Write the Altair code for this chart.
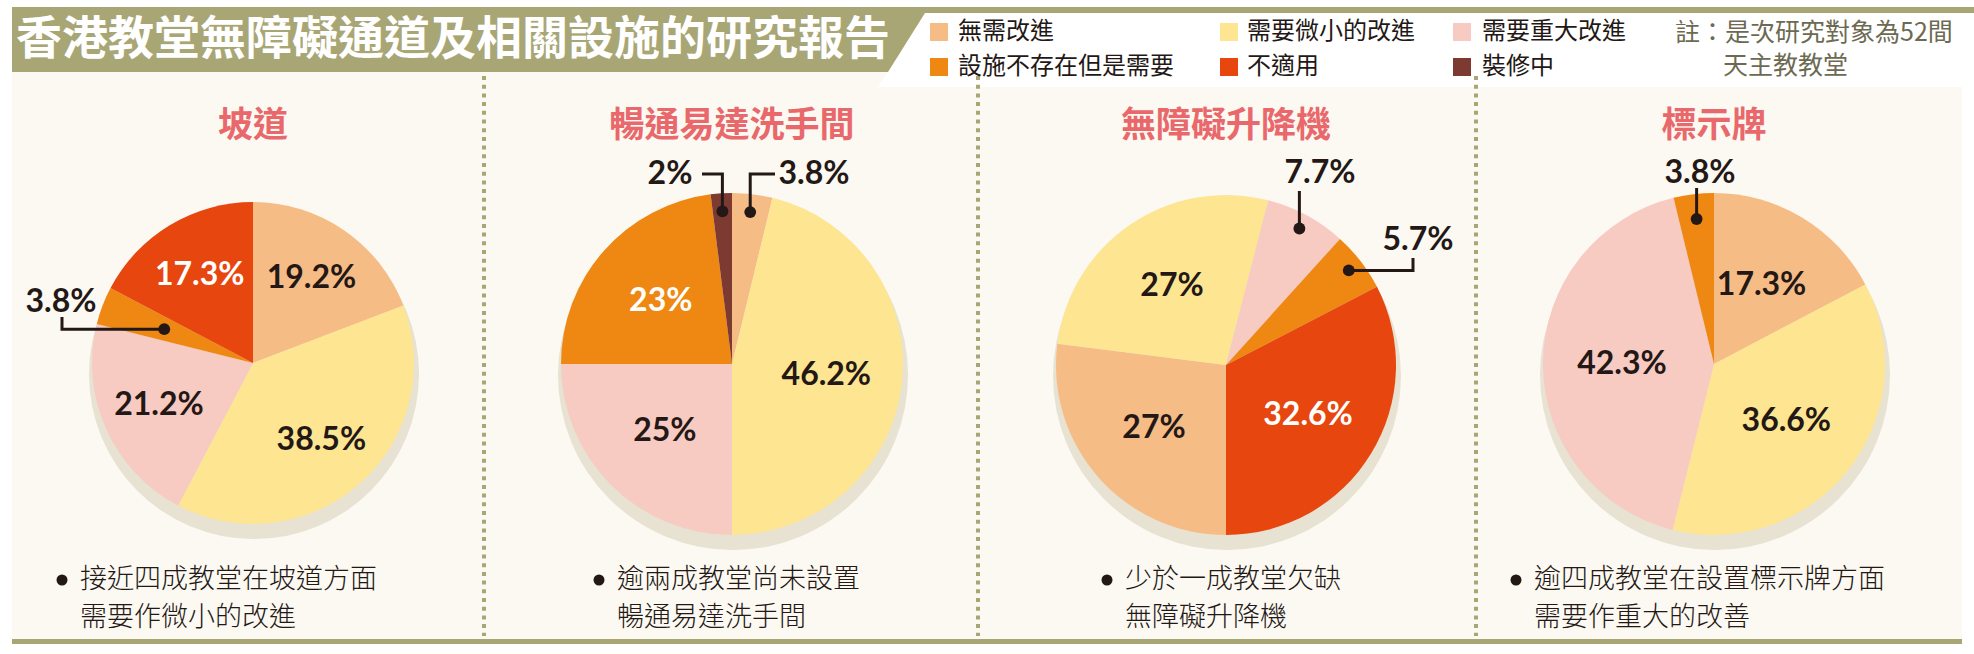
import math
import altair as alt
import pandas as pd

# ---------------- data ----------------
TITLE = "香港教堂無障礙通道及相關設施的研究報告"
CATEGORIES = ["無需改進", "需要微小的改進", "需要重大改進", "設施不存在但是需要", "不適用", "裝修中"]
PANEL_TITLES = ["坡道", "暢通易達洗手間", "無障礙升降機", "標示牌"]
VALUES_RAMP = [19.2, 38.5, 21.2, 3.8, 17.3, None]
VALUES_TOILET = [3.8, 46.2, 25.0, 23.0, None, 2.0]
VALUES_LIFT = [27.0, 27.0, 7.7, 5.7, 32.6, None]
VALUES_SIGN = [17.3, 36.6, 42.3, 3.8, None, None]
PIE_VALUES = [VALUES_RAMP, VALUES_TOILET, VALUES_LIFT, VALUES_SIGN]
CAPTIONS = [
    ["接近四成教堂在坡道方面", "需要作微小的改進"],
    ["逾兩成教堂尚未設置", "暢通易達洗手間"],
    ["少於一成教堂欠缺", "無障礙升降機"],
    ["逾四成教堂在設置標示牌方面", "需要作重大的改善"],
]
NOTE_LINES = ["註：是次研究對象為52間", "天主教教堂"]

# ---------------- style / layout ----------------
SLICE_COLORS = ["#f6bc86", "#fde591", "#f7cac2", "#ee8813", "#e7460e", "#7c3a31"]
WHITE_TEXT_CATS = [3, 4]
OLIVE = "#a9a676"
CREAM = "#fcf9f2"
SHADOW = "#e7e2d2"
DARK = "#231815"
TITLE_PINK = "#e9686b"
NOTE_COLOR = "#6c6a52"
CJK = "Noto Sans CJK TC"
NUM_FONT = "Lato"
NUM_SIZE = 32
W, H = 1974, 654

PIE_CX = [253, 732, 1226, 1714]
PIE_CY = [363, 364, 365, 364]
PIE_R = [161, 171, 170, 171]
PIE_START_DEG = [0, 0, 180, 0]
LABEL_R = [103, 95, 96, 92]
OUTSIDE_LIMIT = 10

# (pie, category) -> outside label layout
OUT_LAYOUT = {
    (0, 3): dict(label=(61, 302), dist=95, route="vh", anchor=(62, 317)),
    (1, 5): dict(label=(670, 174), dist=153, route="hv", anchor=(702, 174)),
    (1, 0): dict(label=(814, 174), dist=153, route="hv", anchor=(775, 174)),
    (2, 2): dict(label=(1320, 173), dist=155, route="v", anchor=(0, 191)),
    (2, 3): dict(label=(1418, 240), dist=155, route="vh", anchor=(1413, 258)),
    (3, 3): dict(label=(1700, 173), dist=146, route="v", anchor=(0, 188)),
}

LEG_SQ_X = [939, 1229, 1462]
LEG_TX_X = [958, 1247, 1482]
LEG_ROW_Y = [32, 67]
CAP_X = [80, 617, 1125, 1534]
CAP_Y = [580, 618]

color_scale = alt.Scale(domain=CATEGORIES, range=SLICE_COLORS)


def fmt(v):
    return f"{v:g}%"


def xq(f):
    return alt.X(f"{f}:Q", scale=None, axis=None)


def yq(f):
    return alt.Y(f"{f}:Q", scale=None, axis=None)


# ---------------- decorative frame ----------------
rects = pd.DataFrame([
    dict(x=12, x2=1962, y=72, y2=639, c=CREAM),
    dict(x=12, x2=W, y=7, y2=13, c=OLIVE),
    dict(x=12, x2=1962, y=639, y2=644, c=OLIVE),
    dict(x=1645, x2=1648, y=20, y2=80, c=OLIVE),
])
rect_layer = alt.Chart(rects).mark_rect().encode(
    x=xq("x"), x2="x2:Q", y=yq("y"), y2="y2:Q", color=alt.Color("c:N", scale=None)
)

legend_box = alt.Chart(pd.DataFrame(dict(x=[878, 925, W], y=[87, 13, 13], y2=[87, 87, 87]))).mark_area(
    color="white", opacity=1
).encode(x=xq("x"), y=yq("y"), y2="y2:Q")

banner = alt.Chart(pd.DataFrame(dict(x=[12, 888, 925], y=[7, 7, 7], y2=[72, 72, 13]))).mark_area(
    color=OLIVE, opacity=1
).encode(x=xq("x"), y=yq("y"), y2="y2:Q")

seps = pd.DataFrame(dict(x=[484, 978, 1476], y=[76, 76, 76], y2=[636, 636, 636]))
sep_layer = alt.Chart(seps).mark_rule(
    color=OLIVE, strokeWidth=4, strokeDash=[4, 4.7], strokeCap="butt"
).encode(x=xq("x"), y=yq("y"), y2="y2:Q")

title_layer = alt.Chart(pd.DataFrame(dict(t=[TITLE]))).mark_text(
    align="left", baseline="middle", font=CJK, fontSize=46, fontWeight="bold", color="white"
).encode(x=alt.value(16), y=alt.value(40), text="t:N")

# ---------------- legend + note ----------------
leg = pd.DataFrame([
    dict(cat=c, sx=LEG_SQ_X[k % 3], tx=LEG_TX_X[k % 3], y=LEG_ROW_Y[k // 3])
    for k, c in enumerate(CATEGORIES)
])
leg_sq = alt.Chart(leg).mark_square(size=18 * 18, opacity=1).encode(
    x=xq("sx"), y=yq("y"), color=alt.Color("cat:N", scale=color_scale, legend=None)
)
leg_tx = alt.Chart(leg).mark_text(
    align="left", baseline="middle", font=CJK, fontSize=24, color=DARK
).encode(x=xq("tx"), y=yq("y"), text="cat:N")

note = pd.DataFrame(dict(t=NOTE_LINES, x=[1675, 1723], y=[33, 66]))
note_tx = alt.Chart(note).mark_text(
    align="left", baseline="middle", font=CJK, fontSize=25, color=NOTE_COLOR
).encode(x=xq("x"), y=yq("y"), text="t:N")

# ---------------- panel titles + captions ----------------
ptitles = pd.DataFrame(dict(t=PANEL_TITLES, x=PIE_CX, y=[126] * 4))
ptitle_layer = alt.Chart(ptitles).mark_text(
    align="center", baseline="middle", font=CJK, fontSize=35, fontWeight="bold", color=TITLE_PINK
).encode(x=xq("x"), y=yq("y"), text="t:N")

cap_rows, bullet_rows = [], []
for i, lines in enumerate(CAPTIONS):
    for j, line in enumerate(lines):
        cap_rows.append(dict(t=line, x=CAP_X[i], y=CAP_Y[j]))
    bullet_rows.append(dict(x=CAP_X[i] - 18, y=CAP_Y[0]))
cap_layer = alt.Chart(pd.DataFrame(cap_rows)).mark_text(
    align="left", baseline="middle", font=CJK, fontSize=27, fontWeight=300, color=DARK
).encode(x=xq("x"), y=yq("y"), text="t:N")
bullet_layer = alt.Chart(pd.DataFrame(bullet_rows)).mark_circle(
    size=121, color=DARK, opacity=1
).encode(x=xq("x"), y=yq("y"))


# ---------------- pies ----------------
def pie_layer(i):
    vals = PIE_VALUES[i]
    cx, cy, r = PIE_CX[i], PIE_CY[i], PIE_R[i]
    rows = []
    for k, (cat, v) in enumerate(zip(CATEGORIES, vals)):
        if v is None:
            continue
        inside = v >= OUTSIDE_LIMIT
        white = inside and k in WHITE_TEXT_CATS
        rows.append(dict(cat=cat, k=k, value=v,
                         dark=fmt(v) if inside and not white else "",
                         light=fmt(v) if white else ""))
    df = pd.DataFrame(rows)
    start = math.radians(PIE_START_DEG[i])
    base = alt.Chart(df).encode(
        theta=alt.Theta("value:Q", stack=True,
                        scale=alt.Scale(range=[start, start + 2 * math.pi])),
        order=alt.Order("k:Q", sort="ascending"),
        x=alt.value(cx), y=alt.value(cy),
    )
    shadow = alt.Chart(pd.DataFrame(dict(v=[1]))).mark_circle(
        size=(2 * (r + 4)) ** 2, color=SHADOW, opacity=1
    ).encode(x=alt.value(cx + 1), y=alt.value(cy + 11))
    arcs = base.mark_arc(radius=r).encode(
        color=alt.Color("cat:N", scale=color_scale, legend=None)
    )
    dark = base.mark_text(radius=LABEL_R[i], font=NUM_FONT, fontSize=NUM_SIZE,
                          fontWeight="bold", color=DARK).encode(text="dark:N")
    light = base.mark_text(radius=LABEL_R[i], font=NUM_FONT, fontSize=NUM_SIZE,
                           fontWeight="bold", color="white").encode(text="light:N")
    return alt.layer(shadow, arcs, dark, light)


pie_layers = [pie_layer(i) for i in range(4)]

# outside labels with leader lines (dot placed at slice mid-angle)
out_txt, leader_pts, dots = [], [], []
for (i, k), lay in OUT_LAYOUT.items():
    vals = PIE_VALUES[i]
    cum = sum(v for v in vals[:k] if v is not None)
    mid = math.radians(PIE_START_DEG[i] + 360 * (cum + vals[k] / 2) / 100)
    dx = PIE_CX[i] + lay["dist"] * math.sin(mid)
    dy = PIE_CY[i] - lay["dist"] * math.cos(mid)
    dots.append(dict(x=dx, y=dy))
    out_txt.append(dict(t=fmt(vals[k]), x=lay["label"][0], y=lay["label"][1]))
    ax, ay = lay["anchor"]
    if lay["route"] == "vh":
        pts = [(ax, ay), (ax, dy), (dx, dy)]
    elif lay["route"] == "hv":
        pts = [(ax, ay), (dx, ay), (dx, dy)]
    else:
        pts = [(dx, ay), (dx, dy)]
    for s, (px, py) in enumerate(pts):
        leader_pts.append(dict(id=f"{i}-{k}", s=s, x=px, y=py))

leader_layer = alt.Chart(pd.DataFrame(leader_pts)).mark_line(
    color=DARK, strokeWidth=3, strokeCap="butt", strokeJoin="miter"
).encode(x=xq("x"), y=yq("y"), detail="id:N", order="s:Q")
dot_layer = alt.Chart(pd.DataFrame(dots)).mark_circle(size=140, color=DARK, opacity=1).encode(
    x=xq("x"), y=yq("y")
)
out_layer = alt.Chart(pd.DataFrame(out_txt)).mark_text(
    align="center", baseline="middle", font=NUM_FONT, fontSize=NUM_SIZE, fontWeight="bold", color=DARK
).encode(x=xq("x"), y=yq("y"), text="t:N")

chart = alt.layer(
    rect_layer, legend_box, banner, sep_layer, title_layer,
    leg_sq, leg_tx, note_tx, ptitle_layer, cap_layer, bullet_layer,
    *pie_layers, leader_layer, dot_layer, out_layer,
).resolve_scale(theta="independent").properties(
    width=W, height=H, autosize=alt.AutoSizeParams(type="none"), padding=0, background="white"
).configure_view(stroke=None)

chart.save("out.html", embed_options={"renderer": "svg", "actions": False})
